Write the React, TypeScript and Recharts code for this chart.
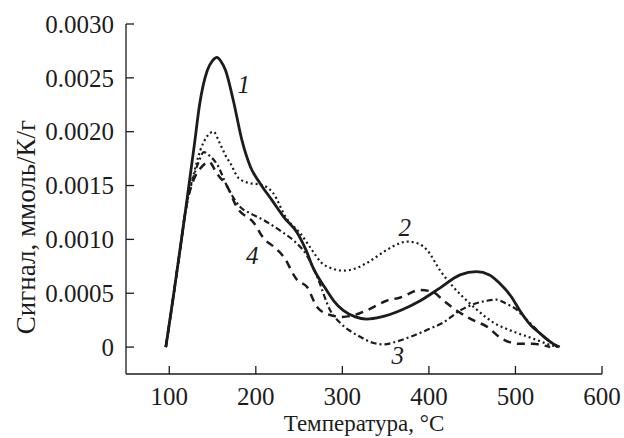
import { LineChart, Line, XAxis, YAxis, ReferenceDot } from "recharts";

const FONT = "Liberation Serif, DejaVu Serif, serif";
const INK = "#1c1c1c";

// temperature, °C
const temps1 = [96, 104, 112, 120, 129, 135, 144, 150, 155, 160, 165, 174, 184, 194, 205, 219, 233, 248, 258, 266, 280, 290, 301, 315, 328, 345, 367, 390, 413, 436, 455, 470, 482, 495, 505, 518, 528, 540, 549];
const signal1 = [0, 0.00043, 0.00088, 0.00134, 0.00188, 0.00225, 0.00257, 0.00266, 0.00269, 0.00265, 0.00257, 0.00229, 0.00192, 0.00167, 0.00152, 0.00136, 0.0012, 0.00106, 0.0009, 0.00074, 0.00055, 0.00043, 0.00034, 0.00028, 0.00026, 0.00028, 0.00034, 0.00043, 0.00055, 0.00067, 0.0007, 0.00067, 0.00059, 0.00047, 0.00034, 0.0002, 0.00013, 0.00005, 0];

const temps2 = [96, 104, 112, 120, 128, 136, 144, 151, 158, 165, 171, 180, 194, 205, 220, 235, 252, 265, 275, 288, 301, 315, 328, 351, 365, 375, 388, 398, 413, 428, 440, 455, 474, 494, 520, 540, 550];
const signal2 = [0, 0.00043, 0.00088, 0.00132, 0.0016, 0.00183, 0.00196, 0.002, 0.0019, 0.00178, 0.0017, 0.00157, 0.00152, 0.00151, 0.00143, 0.0012, 0.00105, 0.0009, 0.00079, 0.00073, 0.00071, 0.00073, 0.00078, 0.0009, 0.00096, 0.00098, 0.00096, 0.0009, 0.00071, 0.00056, 0.00046, 0.00035, 0.00023, 0.000155, 0.00008, 0.00002, 0];

const temps3 = [96, 104, 112, 120, 128, 134, 140, 146, 155, 167, 182, 194, 209, 221, 232, 245, 259, 271, 286, 298, 309, 321, 335, 348, 362, 378, 398, 417, 436, 452, 467, 478, 490, 501, 511, 521, 532, 544, 552];
const signal3 = [0, 0.00043, 0.00088, 0.00132, 0.00158, 0.00172, 0.00181, 0.00178, 0.0017, 0.00149, 0.0013, 0.00124, 0.00118, 0.00112, 0.00106, 0.00098, 0.00085, 0.00065, 0.00034, 0.00022, 0.00015, 0.000093, 0.00004, 0.000025, 0.00005, 0.000093, 0.00016, 0.00023, 0.00034, 0.0004, 0.00043, 0.00044, 0.0004, 0.00035, 0.00027, 0.00019, 0.0001, 0.00003, 0];

const temps4 = [96, 104, 112, 120, 128, 136, 146, 155, 167, 178, 198, 209, 221, 232, 248, 259, 271, 285, 300, 315, 328, 351, 367, 390, 405, 417, 432, 451, 467, 482, 505, 520, 540];
const signal4 = [0, 0.00043, 0.00088, 0.00132, 0.00155, 0.00166, 0.00172, 0.00161, 0.00149, 0.0013, 0.00115, 0.00101, 0.00093, 0.00084, 0.00062, 0.00056, 0.00037, 0.0003, 0.00028, 0.0003, 0.00034, 0.00043, 0.00046, 0.00053, 0.00051, 0.00043, 0.00034, 0.00025, 0.00019, 0.00009, 0.00003, 0.00003, 0];

const xTicks = [100, 200, 300, 400, 500, 600];
const yTicks = [0, 0.0005, 0.001, 0.0015, 0.002, 0.0025, 0.003];

// curve number labels, in data coordinates
const curveLabels = [
  { name: "1", t: 186, v: 0.00244 },
  { name: "2", t: 372, v: 0.00111 },
  { name: "3", t: 364, v: -0.00008 },
  { name: "4", t: 196, v: 0.00085 },
];

const toPoints = (ts: number[], vs: number[]) => ts.map((t, i) => ({ t, v: vs[i] }));

const series = [
  { key: "1", data: toPoints(temps1, signal1), dash: undefined, width: 2.8 },
  { key: "2", data: toPoints(temps2, signal2), dash: "2 3", width: 2.2 },
  { key: "3", data: toPoints(temps3, signal3), dash: "6 3 2 3", width: 2.2 },
  { key: "4", data: toPoints(temps4, signal4), dash: "8 6", width: 2.5 },
];

const textStyle = { fontFamily: FONT, fontSize: 25, fill: INK };

function XTick({ x, y, payload }: any) {
  return (
    <g>
      <line x1={x} y1={y} x2={x} y2={y - 8} stroke={INK} strokeWidth={1.3} />
      <text x={x} y={y + 31} textAnchor="middle" style={textStyle}>
        {payload.value}
      </text>
    </g>
  );
}

function YTick({ x, y, payload }: any) {
  const label = payload.value === 0 ? "0" : Number(payload.value).toFixed(4);
  return (
    <g>
      <line x1={x} y1={y} x2={x + 8} y2={y} stroke={INK} strokeWidth={1.3} />
      <text x={x - 12} y={y} dy="0.35em" textAnchor="end" style={textStyle}>
        {label}
      </text>
    </g>
  );
}

function XTitle({ viewBox }: any) {
  const cx = viewBox.x + viewBox.width / 2;
  return (
    <text x={cx} y={431} textAnchor="middle" style={{ ...textStyle, fontSize: 23 }}>
      Температура, °C
    </text>
  );
}

function YTitle({ viewBox }: any) {
  const cx = viewBox.x + 35;
  const cy = viewBox.y + viewBox.height / 2 + 28;
  return (
    <text
      x={cx}
      y={cy}
      transform={`rotate(-90, ${cx}, ${cy})`}
      textAnchor="middle"
      style={{ ...textStyle, fontSize: 27 }}
    >
      Сигнал, ммоль/К/г
    </text>
  );
}

function CurveName(name: string) {
  return (props: any) => (
    <text
      x={props.cx}
      y={props.cy}
      dy="0.35em"
      textAnchor="middle"
      style={{ ...textStyle, fontStyle: "italic" }}
    >
      {name}
    </text>
  );
}

export default function App() {
  return (
    <div style={{ position: "absolute", left: 0, top: 0, background: "#fff" }}>
      <LineChart width={624} height={438} margin={{ top: 24, right: 22, left: 0, bottom: 0 }}>
        <XAxis
          dataKey="t"
          type="number"
          domain={[50, 600]}
          ticks={xTicks}
          allowDataOverflow
          height={64}
          tickSize={0}
          tickMargin={0}
          tickLine={false}
          tick={<XTick />}
          axisLine={{ stroke: INK, strokeWidth: 1.3 }}
          label={<XTitle />}
        />
        <YAxis
          dataKey="v"
          type="number"
          domain={[-0.00025, 0.003]}
          ticks={yTicks}
          allowDataOverflow
          width={126}
          tickSize={0}
          tickMargin={0}
          tickLine={false}
          tick={<YTick />}
          axisLine={{ stroke: INK, strokeWidth: 1.3 }}
          label={<YTitle />}
        />
        {series.map((s) => (
          <Line
            key={s.key}
            data={s.data}
            dataKey="v"
            type="monotone"
            stroke={INK}
            strokeWidth={s.width}
            strokeDasharray={s.dash}
            dot={false}
            activeDot={false}
            isAnimationActive={false}
          />
        ))}
        {curveLabels.map((c) => (
          <ReferenceDot key={c.name} x={c.t} y={c.v} r={0} shape={CurveName(c.name)} ifOverflow="visible" />
        ))}
      </LineChart>
    </div>
  );
}
